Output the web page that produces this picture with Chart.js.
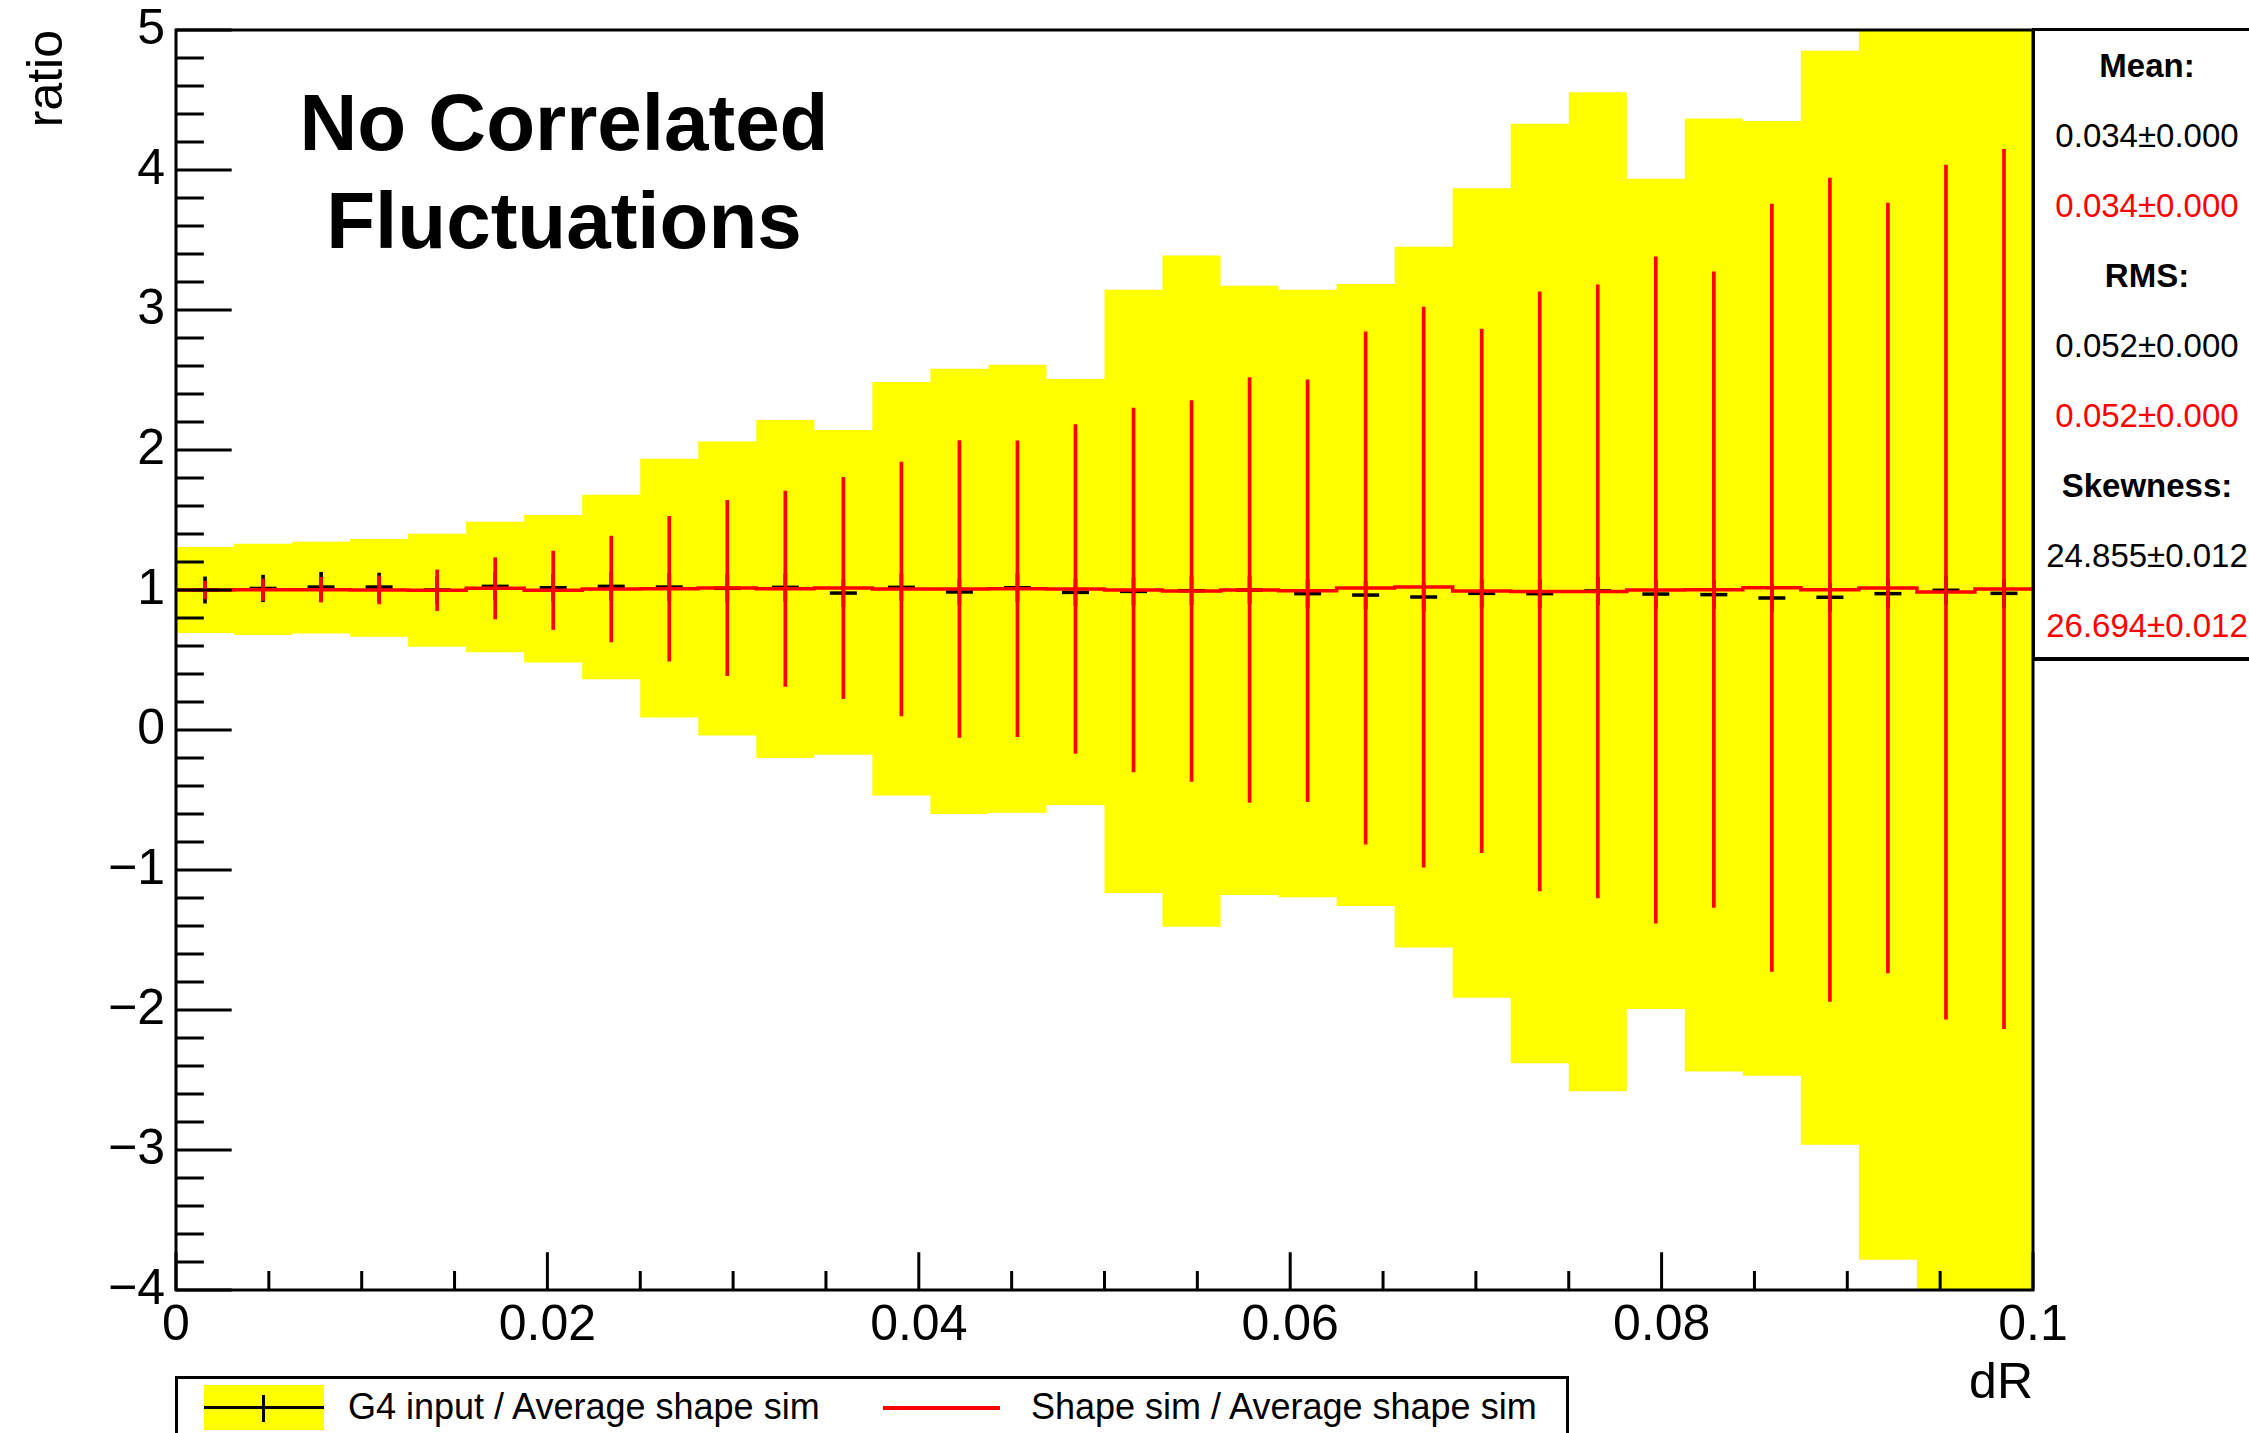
<!DOCTYPE html>
<html>
<head>
<meta charset="utf-8">
<script src="https://cdn.jsdelivr.net/npm/chart.js@4/dist/chart.umd.min.js"></script>
<style>
html,body{margin:0;padding:0;width:2249px;height:1433px;overflow:hidden;background:#fff;}
#wrap{position:relative;width:2249px;height:1433px;overflow:hidden;}
#c{position:absolute;left:0;top:0;}
.t{position:absolute;font-family:"Liberation Sans",Arial,Helvetica,sans-serif;color:#000;white-space:nowrap;}
#title{left:164px;top:74px;width:800px;text-align:center;font-weight:bold;font-size:80px;line-height:98px;}
#stats{position:absolute;left:2032px;top:28px;width:224px;height:626px;border:3px solid #000;border-bottom-width:4px;background:#fff;}
#stats div{height:70px;line-height:70px;text-align:center;font-family:"Liberation Sans",Arial,sans-serif;font-size:33px;white-space:nowrap;color:#000;}
#stats .b{font-weight:bold;}
#stats .r{color:#ff0000;}
#legend{position:absolute;left:175px;top:1376px;width:1388px;height:120px;border:3px solid #000;background:#fff;}
#legend .lt{position:absolute;top:8px;font-family:"Liberation Sans",Arial,sans-serif;font-size:36px;line-height:40px;white-space:nowrap;color:#000;}
</style>
</head>
<body>
<div id="wrap">
<canvas id="c" width="2249" height="1433"></canvas>
<div class="t" id="title">No Correlated<br>Fluctuations</div>
<div id="stats">
  <div class="b">Mean:</div>
  <div>0.034±0.000</div>
  <div class="r">0.034±0.000</div>
  <div class="b">RMS:</div>
  <div>0.052±0.000</div>
  <div class="r">0.052±0.000</div>
  <div class="b">Skewness:</div>
  <div>24.855±0.012</div>
  <div class="r">26.694±0.012</div>
</div>
<div id="legend">
  <div style="position:absolute;left:26px;top:6px;width:120px;height:45px;background:#ffff00;"></div>
  <div style="position:absolute;left:26px;top:27px;width:120px;height:3px;background:#000;"></div>
  <div style="position:absolute;left:84px;top:16px;width:3px;height:27px;background:#000;"></div>
  <div class="lt" style="left:170px;">G4 input / Average shape sim</div>
  <div style="position:absolute;left:705px;top:27px;width:117px;height:4px;background:#ff0000;"></div>
  <div class="lt" style="left:853px;">Shape sim / Average shape sim</div>
</div>
</div>
<script>
// ---- data ----
const xMin = 0, xMax = 0.1, nBins = 32;
const xTickValues = [0, 0.02, 0.04, 0.06, 0.08, 0.1];
const xTickLabels = ['0', '0.02', '0.04', '0.06', '0.08', '0.1'];
const yTickValues = [-4, -3, -2, -1, 0, 1, 2, 3, 4, 5];
const yTickLabels = ['\u22124', '\u22123', '\u22122', '\u22121', '0', '1', '2', '3', '4', '5'];

// yellow error band of "G4 input / Average shape sim"
const bandHigh = [1.307, 1.331, 1.345, 1.364, 1.402, 1.488, 1.536, 1.681, 1.938, 2.06, 2.215, 2.143,
                  2.486, 2.58, 2.609, 2.507, 3.145, 3.39, 3.174, 3.145, 3.185, 3.452, 3.869, 4.331,
                  4.555, 3.938, 4.367, 4.35, 4.852, 5.6, 5.9, 6.2];
const bandLow  = [0.693, 0.679, 0.69, 0.666, 0.595, 0.555, 0.483, 0.362, 0.09, -0.039, -0.2, -0.176,
                  -0.467, -0.6, -0.591, -0.536, -1.165, -1.405, -1.179, -1.195, -1.257, -1.553, -1.912, -2.381,
                  -2.581, -1.993, -2.439, -2.47, -2.962, -3.784, -4.3, -4.6];
// black markers: G4 input / Average shape sim
const g4Value = [1.0, 1.011, 1.021, 1.021, 1.0, 1.026, 1.016, 1.026, 1.021, 1.012, 1.019, 0.978,
                 1.019, 0.986, 1.016, 0.983, 0.99, 0.995, 1.0, 0.974, 0.964, 0.95, 0.976, 0.974,
                 0.993, 0.971, 0.967, 0.943, 0.948, 0.974, 0.998, 0.976];
const g4Error = [0.094, 0.095, 0.105, 0.1, 0.097, 0.098, 0.096, 0.1, 0.097, 0.1, 0.098, 0.096,
                 0.095, 0.093, 0.1, 0.097, 0.098, 0.1, 0.097, 0.1, 0.099, 0.1, 0.098, 0.1,
                 0.099, 0.1, 0.101, 0.1, 0.1, 0.102, 0.1, 0.101];
// red: Shape sim / Average shape sim
const simValue = [1.0, 1.002, 1.002, 1.0, 0.998, 1.012, 0.998, 1.007, 1.009, 1.014, 1.009, 1.014,
                  1.007, 1.007, 1.009, 1.007, 1.0, 0.993, 1.0, 0.995, 1.014, 1.021, 0.993, 0.99,
                  0.99, 1.0, 1.002, 1.016, 1.002, 1.014, 0.985, 1.007];
const simError = [0.063, 0.077, 0.088, 0.1, 0.146, 0.219, 0.28, 0.378, 0.517, 0.626, 0.697, 0.79,
                  0.906, 1.06, 1.056, 1.175, 1.3, 1.36, 1.517, 1.507, 1.83, 2.0, 1.87, 2.14,
                  2.19, 2.38, 2.27, 2.74, 2.94, 2.75, 3.05, 3.14];

// ---- derived structures for the library ----
const binWidth = (xMax - xMin) / nBins;
const centers = Array.from({length: nBins}, (_, i) => xMin + (i + 0.5) * binWidth);
function stepPoints(vals) {
  const pts = vals.map((v, i) => ({x: xMin + i * binWidth, y: v}));
  pts.push({x: xMax, y: vals[vals.length - 1]});
  return pts;
}
const FONT = '"Liberation Sans", Arial, Helvetica, sans-serif';

const framePlugin = {
  id: 'rootFrame',
  afterDatasetsDraw(chart) {
    const {ctx, chartArea: a, scales: {x, y}} = chart;
    const W = a.right - a.left, H = a.bottom - a.top;
    ctx.save();
    ctx.strokeStyle = '#000';
    ctx.lineWidth = 3;
    ctx.beginPath();
    for (let k = 0; k <= 45; k++) {
      const v = -4 + k * 0.2;
      const py = y.getPixelForValue(v);
      const len = (k % 5 === 0) ? 0.03 * W : 0.015 * W;
      ctx.moveTo(a.left, py);
      ctx.lineTo(a.left + len, py);
    }
    for (let k = 0; k <= 20; k++) {
      const v = k * 0.005;
      const px = x.getPixelForValue(v);
      const len = (k % 4 === 0) ? 0.03 * H : 0.015 * H;
      ctx.moveTo(px, a.bottom);
      ctx.lineTo(px, a.bottom - len);
    }
    ctx.stroke();
    ctx.strokeRect(a.left, a.top, W, H);
    ctx.restore();
  }
};

new Chart(document.getElementById('c'), {
  type: 'line',
  data: {
    datasets: [
      { label: 'band', data: stepPoints(bandHigh), stepped: true, fill: '+1',
        backgroundColor: '#ffff00', borderWidth: 0, pointRadius: 0, order: 10 },
      { label: 'bandLow', data: stepPoints(bandLow), stepped: true, fill: false,
        borderWidth: 0, pointRadius: 0, order: 10 },
      { type: 'bar', label: 'g4err', data: centers.map((c, i) => ({x: c, y: [g4Value[i] - g4Error[i], g4Value[i] + g4Error[i]]})),
        backgroundColor: '#000', borderWidth: 0, barThickness: 3, grouped: false, order: 8 },
      { label: 'G4 input / Average shape sim', data: centers.map((c, i) => ({x: c, y: g4Value[i]})),
        showLine: false, pointStyle: 'line', pointRadius: 13.5, pointHoverRadius: 13.5,
        pointBorderColor: '#000', pointBorderWidth: 3.5, borderColor: '#000', order: 7 },
      { label: 'Shape sim / Average shape sim', data: stepPoints(simValue), stepped: true, fill: false,
        borderColor: '#ff0000', borderWidth: 3.5, pointRadius: 0, order: 6 },
      { type: 'bar', label: 'simerr', data: centers.map((c, i) => ({x: c, y: [simValue[i] - simError[i], simValue[i] + simError[i]]})),
        backgroundColor: '#ff0000', borderWidth: 0, barThickness: 3, grouped: false, order: 5 }
    ]
  },
  options: {
    responsive: false,
    animation: false,
    devicePixelRatio: 1,
    events: [],
    layout: { padding: { left: 0, top: 30, right: 216, bottom: 0 } },
    plugins: { legend: { display: false }, tooltip: { enabled: false }, title: { display: false } },
    scales: {
      x: {
        type: 'linear', min: xMin, max: xMax, offset: false,
        afterFit(s) { s.height = 143; s.paddingLeft = 0; s.paddingRight = 0; },
        afterBuildTicks(s) { s.ticks = xTickValues.map(v => ({value: v})); },
        ticks: { font: { family: FONT, size: 50 }, color: '#000', padding: 6, maxRotation: 0, minRotation: 0, autoSkip: false,
                 callback: (v, i) => xTickLabels[i] },
        grid: { display: false, drawTicks: false, tickLength: 0 },
        border: { display: false },
        title: { display: true, text: 'dR', align: 'end', color: '#000', font: { family: FONT, size: 50 }, padding: { top: 0, bottom: 19 } }
      },
      y: {
        type: 'linear', min: -4, max: 5,
        afterFit(s) { s.width = 176; s.paddingTop = 0; s.paddingBottom = 0; },
        afterBuildTicks(s) { s.ticks = yTickValues.map(v => ({value: v})); },
        ticks: { font: { family: FONT, size: 50 }, color: '#000', padding: 11, autoSkip: false,
                 callback: (v, i) => yTickLabels[i] },
        grid: { display: false, drawTicks: false, tickLength: 0 },
        border: { display: false },
        title: { display: true, text: 'ratio', align: 'end', color: '#000', font: { family: FONT, size: 50 }, padding: { top: 18, bottom: 0 } }
      }
    }
  },
  plugins: [framePlugin]
});
</script>
</body>
</html>
